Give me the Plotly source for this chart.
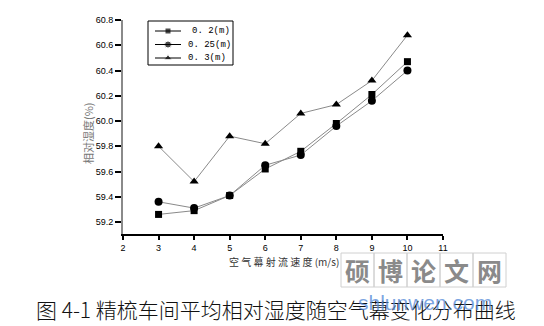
import plotly.graph_objects as go

# Air-curtain jet velocity (m/s)
velocity = [3, 4, 5, 6, 7, 8, 9, 10]

# Mean relative humidity (%) for three curtain widths
rh_02 = [59.26, 59.29, 59.41, 59.62, 59.76, 59.98, 60.21, 60.47]
rh_025 = [59.36, 59.31, 59.41, 59.65, 59.73, 59.96, 60.16, 60.40]
rh_03 = [59.80, 59.52, 59.88, 59.82, 60.06, 60.13, 60.32, 60.68]

series_names = ["0. 2(m)", "0. 25(m)", "0. 3(m)"]
series_symbols = ["square", "circle", "triangle-up"]

x_ticks = [2, 3, 4, 5, 6, 7, 8, 9, 10, 11]
y_ticks = [59.2, 59.4, 59.6, 59.8, 60.0, 60.2, 60.4, 60.6, 60.8]
y_ticklabels = ["59.2", "59.4", "59.6", "59.8", "60.0", "60.2", "60.4", "60.6", "60.8"]

W, H = 544, 326
L, R, T, B = 123, 101, 20, 92
PW, PH = W - L - R, H - T - B


def px(x):
    return (x - L) / PW


def py(y):
    return (H - B - y) / PH


LINE_COLOR = "#8a8a8a"
fig = go.Figure()

for name, sym, ys in zip(series_names, series_symbols, [rh_02, rh_025, rh_03]):
    fig.add_trace(go.Scatter(
        x=velocity, y=ys, mode="lines+markers", name=name,
        line=dict(color=LINE_COLOR, width=1),
        marker=dict(symbol=sym, size=8 if sym != "square" else 7, color="black"),
        cliponaxis=False, showlegend=False,
    ))

# Hand-built legend box on a pixel-scaled overlay axis
leg_rows = [31, 44.5, 58]
fig.add_trace(go.Scatter(
    x=[168, 168, 168], y=leg_rows, mode="markers",
    marker=dict(symbol=series_symbols, size=[6, 7, 7], color="black"),
    xaxis="x2", yaxis="y2", showlegend=False, cliponaxis=False, hoverinfo="skip",
))

shapes = [
    dict(type="rect", xref="x2", yref="y2", x0=148, x1=233, y0=21, y1=65,
         line=dict(color="black", width=1)),
]
for yy in leg_rows:
    shapes.append(dict(type="line", xref="x2", yref="y2", x0=155, x1=181, y0=yy, y1=yy,
                       line=dict(color="black", width=1)))

annotations = []
for name, yy, xx in zip(series_names, leg_rows, [190, 186, 186]):
    annotations.append(dict(xref="x2", yref="y2", x=xx, y=yy, text=name, showarrow=False,
                            xanchor="left", yanchor="middle",
                            font=dict(family="Liberation Mono", size=9, color="black")))

# Axis titles
annotations.append(dict(xref="paper", yref="paper", x=px(88), y=py(133), text="相对湿度(%)",
                        textangle=-90, showarrow=False, xanchor="center", yanchor="middle",
                        font=dict(family="Noto Sans CJK SC", size=11, color="#777777")))
annotations.append(dict(xref="paper", yref="paper", x=px(284), y=py(261),
                        text="空 气 幕 射 流 速 度 (m/s)", showarrow=False,
                        xanchor="center", yanchor="middle",
                        font=dict(family="Noto Sans CJK SC", size=10, color="#333333")))

# Watermark cells
wm_chars = ["硕", "博", "论", "文", "网"]
cell_w = 33
for i, ch in enumerate(wm_chars):
    x0 = 341 + i * cell_w
    shapes.append(dict(type="rect", xref="paper", yref="paper",
                       x0=px(x0), x1=px(x0 + cell_w), y0=py(287), y1=py(253),
                       line=dict(color="#d0d0d0", width=1)))
    annotations.append(dict(xref="paper", yref="paper", x=px(x0 + cell_w / 2), y=py(270),
                            text="<b>" + ch + "</b>", showarrow=False,
                            xanchor="center", yanchor="middle", borderpad=0,
                            font=dict(family="Noto Sans CJK SC", size=25, color="#8a8a8a")))

# Caption
annotations.append(dict(xref="paper", yref="paper", x=px(276), y=py(309),
                        text="图 4-1 精梳车间平均相对湿度随空气幕变化分布曲线",
                        showarrow=False, xanchor="center", yanchor="middle",
                        font=dict(family="Noto Sans CJK SC", size=21, color="#111111",
                                  weight=300)))
annotations.append(dict(xref="paper", yref="paper", x=px(425), y=py(302),
                        text="shlunwen.com", showarrow=False, xanchor="center", yanchor="middle",
                        font=dict(family="Liberation Sans", size=21,
                                  color="rgba(80,135,215,0.75)")))

fig.update_layout(
    width=W, height=H, margin=dict(l=L, r=R, t=T, b=B),
    paper_bgcolor="white", plot_bgcolor="white",
    showlegend=False,
    xaxis=dict(range=[2, 11], tickvals=x_ticks, ticks="outside", ticklen=4, tickwidth=1.5,
               tickcolor="black", showline=True, linecolor="black", linewidth=2,
               showgrid=False, zeroline=False,
               tickfont=dict(family="Liberation Sans", size=9, color="black")),
    yaxis=dict(range=[60.8 - PH / 126.25, 60.8], tickvals=y_ticks, ticktext=y_ticklabels,
               ticks="outside", ticklen=6, tickwidth=2, tickcolor="black",
               showline=True, linecolor="#8a8a8a", linewidth=2,
               showgrid=False, zeroline=False,
               tickfont=dict(family="Liberation Sans", size=9, color="black")),
    xaxis2=dict(range=[L, L + PW], overlaying="x", visible=False, fixedrange=True),
    yaxis2=dict(range=[T + PH, T], overlaying="y", visible=False, fixedrange=True),
    shapes=shapes,
    annotations=annotations,
)

fig.write_html("out.html")
